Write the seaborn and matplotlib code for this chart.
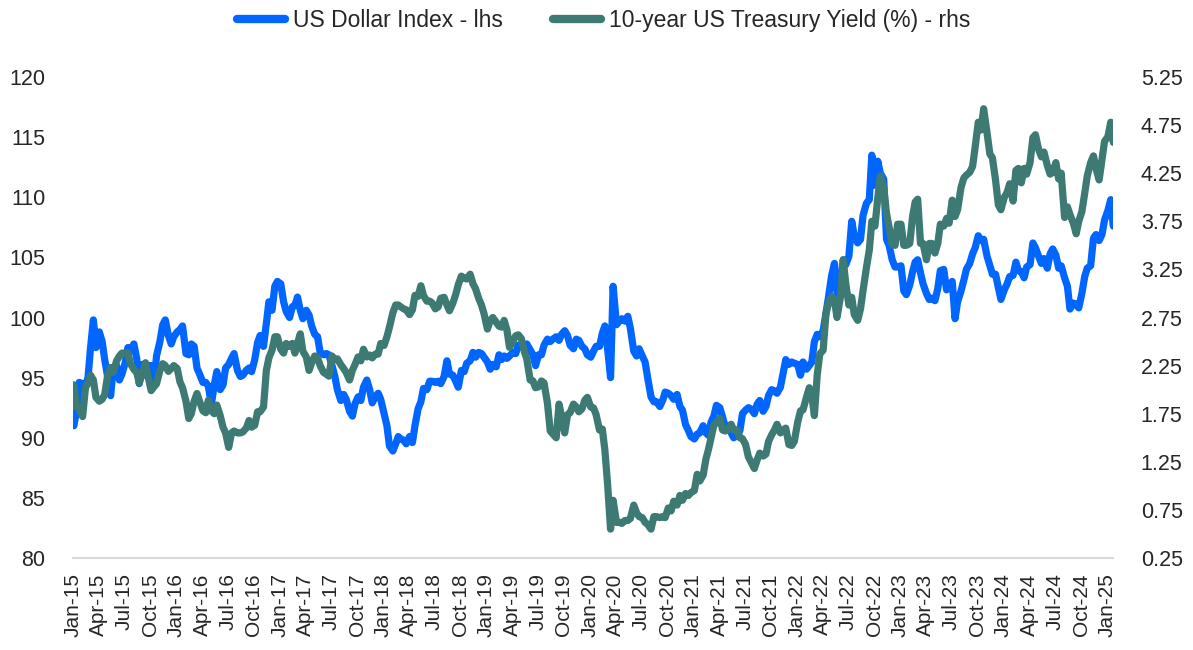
import numpy as np
import pandas as pd
import seaborn as sns
import matplotlib.pyplot as plt
import matplotlib.dates as mdates
import matplotlib.ticker as mticker

# US Dollar Index, three readings per month (early / mid / late)
dxy_2015 = [91.0, 92.3, 94.6, 94.5, 94.3, 95.0, 97.5, 99.8, 97.5, 98.8, 98.0, 96.5,
            95.0, 93.5, 95.8, 96.0, 94.8, 95.3, 96.2, 97.5, 97.2, 97.8, 96.6, 94.5,
            96.1, 95.2, 96.0, 96.0, 94.4, 96.8, 98.0, 99.4, 99.8, 98.5, 97.8, 98.4]
dxy_2016 = [98.8, 99.0, 99.3, 97.0, 96.9, 97.8, 97.6, 95.8, 95.3, 94.6, 94.6, 94.3,
            92.8, 94.4, 95.5, 94.0, 94.4, 95.8, 96.1, 96.6, 97.0, 95.6, 95.1, 95.2,
            95.6, 95.8, 95.5, 96.5, 97.9, 98.5, 97.6, 99.5, 101.3, 100.6, 102.6, 103.0]
dxy_2017 = [102.8, 101.3, 100.5, 100.0, 100.9, 101.0, 101.7, 100.6, 99.9, 100.6, 100.2, 99.3,
            98.6, 98.4, 97.1, 96.9, 97.0, 96.9, 96.0, 95.1, 94.0, 93.1, 93.6, 93.2,
            92.2, 91.8, 92.8, 93.4, 93.1, 94.2, 94.8, 94.0, 92.9, 93.4, 93.7, 93.2]
dxy_2018 = [92.0, 91.0, 89.3, 88.9, 89.5, 90.1, 89.9, 89.8, 89.5, 90.1, 89.6, 91.0,
            92.4, 93.0, 94.1, 94.0, 94.7, 94.7, 94.6, 94.7, 94.5, 95.1, 96.4, 95.3,
            95.2, 94.7, 94.2, 95.6, 95.5, 96.2, 96.4, 97.1, 96.7, 97.1, 97.0, 96.7]
dxy_2019 = [96.3, 95.7, 96.1, 95.9, 96.9, 96.5, 96.8, 96.6, 96.8, 97.1, 97.0, 97.7,
            97.6, 97.4, 97.8, 97.3, 96.9, 96.0, 96.9, 96.9, 97.7, 98.2, 98.0, 98.2,
            98.4, 98.1, 98.6, 98.9, 98.5, 97.7, 97.4, 98.2, 98.1, 97.6, 97.4, 96.9]
dxy_2020 = [96.7, 97.2, 97.6, 97.6, 98.7, 99.3, 97.3, 95.0, 102.6, 99.4, 99.7, 99.9,
            99.7, 100.1, 99.1, 97.2, 96.8, 97.4, 96.8, 96.3, 95.0, 93.4, 93.0, 93.0,
            92.6, 93.1, 93.8, 93.7, 93.5, 93.2, 93.6, 92.6, 92.3, 91.1, 90.6, 90.1]
dxy_2021 = [89.9, 90.3, 90.4, 91.0, 90.4, 90.2, 91.3, 91.8, 92.7, 92.5, 91.7, 90.9,
            91.0, 90.4, 90.0, 90.2, 90.6, 92.0, 92.3, 92.5, 92.4, 92.0, 92.8, 93.1,
            92.2, 92.6, 93.5, 94.0, 93.9, 93.7, 94.2, 95.4, 96.5, 96.1, 96.3, 96.2]
dxy_2022 = [96.1, 95.2, 96.3, 95.7, 96.0, 96.3, 98.0, 98.6, 98.4, 98.9, 100.4, 101.7,
            103.5, 104.5, 102.0, 102.3, 104.8, 104.4, 105.1, 108.0, 106.8, 106.2, 106.5, 108.5,
            109.5, 109.8, 113.5, 111.0, 113.0, 112.0, 111.5, 106.5, 106.0, 104.8, 104.2, 104.2]
dxy_2023 = [104.3, 102.2, 101.9, 102.7, 103.8, 104.6, 104.8, 103.7, 102.8, 102.0, 101.5, 101.6,
            101.4, 102.4, 103.9, 104.0, 102.3, 102.6, 103.0, 99.9, 101.3, 102.2, 103.1, 104.0,
            104.5, 105.3, 105.8, 106.8, 106.4, 106.5, 105.1, 104.3, 103.6, 103.6, 102.5, 101.5]
dxy_2024 = [102.3, 102.8, 103.4, 103.5, 104.6, 103.9, 103.8, 103.3, 104.2, 104.4, 106.2, 105.8,
            105.1, 104.5, 104.9, 104.1, 105.3, 105.7, 105.2, 104.1, 104.3, 103.3, 102.6, 100.7,
            101.2, 101.1, 100.8, 102.0, 103.4, 104.1, 104.3, 106.6, 106.9, 106.4, 106.9, 108.1]
dxy_2025 = [108.9, 109.8, 107.6]

# 10-year US Treasury yield (%), same dates
ust_2015 = [2.05, 1.82, 1.80, 1.72, 2.02, 2.07, 2.15, 2.10, 1.92, 1.88, 1.90, 1.95,
            2.16, 2.23, 2.18, 2.30, 2.35, 2.38, 2.38, 2.38, 2.27, 2.21, 2.18, 2.07,
            2.18, 2.28, 2.14, 1.99, 2.03, 2.06, 2.20, 2.27, 2.25, 2.19, 2.22, 2.25]
ust_2016 = [2.22, 2.08, 2.02, 1.88, 1.70, 1.75, 1.88, 1.96, 1.88, 1.78, 1.76, 1.89,
            1.78, 1.75, 1.84, 1.73, 1.61, 1.55, 1.40, 1.55, 1.57, 1.55, 1.55, 1.56,
            1.60, 1.68, 1.61, 1.63, 1.77, 1.77, 1.82, 2.20, 2.33, 2.41, 2.55, 2.55]
ust_2017 = [2.42, 2.38, 2.48, 2.45, 2.48, 2.38, 2.48, 2.58, 2.40, 2.34, 2.20, 2.28,
            2.35, 2.33, 2.25, 2.18, 2.16, 2.14, 2.35, 2.31, 2.32, 2.26, 2.22, 2.18,
            2.10, 2.20, 2.26, 2.34, 2.30, 2.42, 2.34, 2.36, 2.33, 2.37, 2.37, 2.48]
ust_2018 = [2.46, 2.55, 2.65, 2.80, 2.88, 2.88, 2.86, 2.84, 2.83, 2.78, 2.83, 2.98,
            2.97, 3.08, 2.98, 2.92, 2.92, 2.90, 2.84, 2.86, 2.95, 2.96, 2.88, 2.82,
            2.90, 2.99, 3.09, 3.18, 3.16, 3.15, 3.20, 3.10, 3.05, 2.95, 2.88, 2.79]
ust_2019 = [2.63, 2.72, 2.75, 2.70, 2.66, 2.65, 2.72, 2.62, 2.44, 2.50, 2.56, 2.57,
            2.53, 2.40, 2.32, 2.10, 2.09, 2.02, 2.03, 2.09, 2.07, 1.86, 1.57, 1.54,
            1.50, 1.85, 1.72, 1.55, 1.74, 1.76, 1.85, 1.82, 1.77, 1.80, 1.89, 1.92]
ust_2020 = [1.82, 1.81, 1.74, 1.58, 1.59, 1.37, 1.00, 0.55, 0.85, 0.62, 0.62, 0.61,
            0.64, 0.64, 0.66, 0.80, 0.72, 0.68, 0.67, 0.62, 0.60, 0.55, 0.68, 0.68,
            0.67, 0.68, 0.67, 0.77, 0.74, 0.84, 0.80, 0.90, 0.85, 0.92, 0.90, 0.93]
ust_2021 = [0.95, 1.12, 1.05, 1.11, 1.28, 1.38, 1.50, 1.63, 1.66, 1.70, 1.58, 1.57,
            1.59, 1.64, 1.58, 1.58, 1.50, 1.49, 1.43, 1.30, 1.25, 1.18, 1.27, 1.34,
            1.31, 1.33, 1.46, 1.53, 1.58, 1.64, 1.55, 1.58, 1.60, 1.43, 1.42, 1.46]
ust_2022 = [1.66, 1.78, 1.79, 1.92, 2.02, 1.94, 1.73, 2.15, 2.37, 2.41, 2.79, 2.90,
            2.97, 2.93, 2.75, 2.96, 3.35, 3.10, 2.88, 2.96, 2.78, 2.72, 2.84, 3.03,
            3.27, 3.45, 3.75, 3.70, 3.99, 4.22, 4.10, 3.83, 3.69, 3.51, 3.50, 3.72]
ust_2023 = [3.72, 3.50, 3.50, 3.52, 3.80, 3.95, 3.98, 3.52, 3.52, 3.35, 3.52, 3.52,
            3.42, 3.52, 3.72, 3.70, 3.78, 3.73, 3.97, 3.80, 3.87, 4.10, 4.20, 4.23,
            4.26, 4.32, 4.52, 4.78, 4.70, 4.92, 4.67, 4.45, 4.41, 4.18, 3.92, 3.87]
ust_2024 = [4.00, 4.05, 4.14, 3.96, 4.28, 4.30, 4.15, 4.30, 4.24, 4.36, 4.62, 4.65,
            4.50, 4.42, 4.47, 4.33, 4.24, 4.26, 4.36, 4.19, 4.25, 3.79, 3.90, 3.82,
            3.73, 3.62, 3.75, 3.85, 4.04, 4.22, 4.36, 4.43, 4.30, 4.18, 4.39, 4.58]
ust_2025 = [4.63, 4.78, 4.57]

dxy = (dxy_2015 + dxy_2016 + dxy_2017 + dxy_2018 + dxy_2019 + dxy_2020
       + dxy_2021 + dxy_2022 + dxy_2023 + dxy_2024 + dxy_2025)
ust = (ust_2015 + ust_2016 + ust_2017 + ust_2018 + ust_2019 + ust_2020
       + ust_2021 + ust_2022 + ust_2023 + ust_2024 + ust_2025)

months = pd.date_range('2015-01-01', '2025-01-01', freq='MS')
dates = [m + pd.Timedelta(days=d) for m in months for d in (3, 13, 22)]

df = pd.DataFrame({'date': dates, 'dxy': dxy, 'ust': ust})

blue = '#0066ff'
teal = '#3d7a74'
grey = '#d9d9d9'

sns.set_style('white')
plt.rcParams['font.family'] = ['Liberation Sans', 'DejaVu Sans']

fig = plt.figure(figsize=(11.93, 6.5), dpi=100)
ax = fig.add_axes([73 / 1193, 1 - 558 / 650, (1113 - 73) / 1193, (558 - 77) / 650])

sns.lineplot(data=df, x='date', y='dxy', ax=ax, color=blue, lw=5.2,
             solid_joinstyle='round', solid_capstyle='round',
             label='US Dollar Index - lhs')
ax2 = ax.twinx()
sns.lineplot(data=df, x='date', y='ust', ax=ax2, color=teal, lw=5.2,
             solid_joinstyle='round', solid_capstyle='round',
             label='10-year US Treasury Yield (%) - rhs')

ax.set_ylim(80, 120)
ax.set_yticks(np.arange(80, 121, 5))
ax2.set_ylim(0.25, 5.25)
ax2.set_yticks(np.arange(0.25, 5.26, 0.5))
ax2.yaxis.set_major_formatter(mticker.FormatStrFormatter('%.2f'))
ax.set_xlim(pd.Timestamp('2015-01-01'), pd.Timestamp('2025-01-22'))

ax.xaxis.set_major_locator(mdates.MonthLocator(bymonth=[1, 4, 7, 10]))
ax.xaxis.set_major_formatter(mdates.DateFormatter('%b-%y'))

for a in (ax, ax2):
    a.set_xlabel('')
    a.set_ylabel('')
    for s in a.spines.values():
        s.set_visible(False)
    a.grid(False)
ax.spines['bottom'].set_visible(True)
ax.spines['bottom'].set_color(grey)
ax.spines['bottom'].set_linewidth(1.5)

ax.tick_params(axis='x', length=7, width=1.5, color=grey, labelsize=15,
               labelrotation=90, labelcolor='#262626', pad=4)
ax.tick_params(axis='y', length=0, labelsize=15.5, labelcolor='#262626', pad=20)
ax2.tick_params(axis='y', length=0, labelsize=15.5, labelcolor='#262626', pad=20)

h1, l1 = ax.get_legend_handles_labels()
h2, l2 = ax2.get_legend_handles_labels()
ax.get_legend().remove()
ax2.get_legend().remove()
leg = fig.legend(h1 + h2, l1 + l2, loc='center', bbox_to_anchor=(0.506, 0.968),
                 ncol=2, frameon=False, fontsize=16.5, handlelength=2.1,
                 handletextpad=0.35, columnspacing=2.2)
for line in leg.get_lines():
    line.set_linewidth(6)
    line.set_solid_capstyle('round')

fig.savefig('out.png', dpi=100)
